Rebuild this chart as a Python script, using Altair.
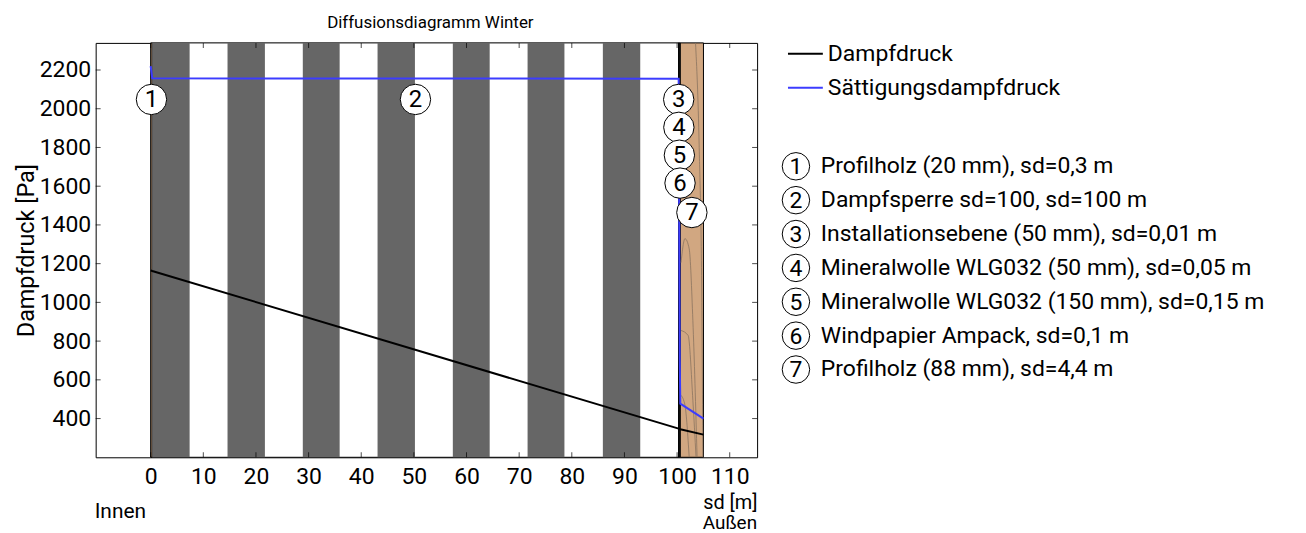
import altair as alt
import pandas as pd

# ---------------- data ----------------
chart_title = "Diffusionsdiagramm Winter"
series_names = ["Dampfdruck", "Sättigungsdampfdruck"]
series_colors = ["#000000", "#3c3cff"]

layer_no = ["1", "2", "3", "4", "5", "6", "7"]
layer_names = [
    "Profilholz (20 mm), sd=0,3 m",
    "Dampfsperre sd=100, sd=100 m",
    "Installationsebene (50 mm), sd=0,01 m",
    "Mineralwolle WLG032 (50 mm), sd=0,05 m",
    "Mineralwolle WLG032 (150 mm), sd=0,15 m",
    "Windpapier Ampack, sd=0,1 m",
    "Profilholz (88 mm), sd=4,4 m",
]
layer_start = [0.0, 0.3, 100.3, 100.31, 100.36, 100.51, 100.61]
layer_end = [0.3, 100.3, 100.31, 100.36, 100.51, 100.61, 105.01]
layer_material = ["Holz", "Sperre", "Luft", "Daemmung", "Daemmung", "Papier", "Holz"]
label_p = [2048, 2048, 2048, 1904, 1760, 1616, 1464]

stripe_start = [0.3, 14.6, 28.9, 43.1, 57.4, 71.6, 85.9]
stripe_end = [7.4, 21.7, 35.9, 50.2, 64.4, 78.6, 93.0]

dd_sd = [0.0, 0.3, 100.3, 100.61, 105.01]
dd_p = [1165, 1162, 348, 345, 317]
sat_sd = [0.0, 0.3, 100.3, 100.31, 100.36, 100.51, 100.61, 105.01]
sat_p = [2220, 2157, 2155, 2100, 1750, 700, 477, 400]

grain_id = ["a"] * 4 + ["b"] * 5 + ["c"] * 4 + ["d"] * 3
grain_sd = [103.5, 104.2, 104.7, 104.9,
            100.75, 101.5, 102.3, 103.0, 103.8,
            100.75, 102.1, 103.0, 103.6,
            100.75, 101.5, 102.3]
grain_p = [2340, 1800, 1000, 200,
           1205, 1329, 1277, 906, 200,
           855, 829, 494, 200,
           520, 468, 200]

x_ticks = [0, 10, 20, 30, 40, 50, 60, 70, 80, 90, 100, 110]
y_ticks = [400, 600, 800, 1000, 1200, 1400, 1600, 1800, 2000, 2200]
x_domain = [-10.45, 115.2]
y_domain = [200, 2340]
end_labels = ["Innen", "Außen"]

# ---------------- layout / style constants ----------------
W, H = 664, 416
LW, LH = 535, 416
FONT = "Roboto"
ITEM_ROW0 = 3.32
ROW_PX = 34.0
ROW0_PX = 11.0
TICK_FS = 23

layers_df = pd.DataFrame({
    "no": layer_no, "name": layer_names, "start": layer_start, "end": layer_end,
    "material": layer_material, "p": label_p,
    "mid": [(a + b) / 2 for a, b in zip(layer_start, layer_end)],
})
stripes_df = pd.DataFrame({"start": stripe_start, "end": stripe_end})
lines_df = pd.concat([
    pd.DataFrame({"series": series_names[0], "sd": dd_sd, "p": dd_p, "o": range(len(dd_sd))}),
    pd.DataFrame({"series": series_names[1], "sd": sat_sd, "p": sat_p, "o": range(len(sat_sd))}),
])
grain_df = pd.DataFrame({"g": grain_id, "sd": grain_sd, "p": grain_p,
                         "o": range(len(grain_id))})
xt_df = pd.DataFrame({"v": x_ticks})
yt_df = pd.DataFrame({"v": y_ticks})

xs = alt.Scale(domain=x_domain, nice=False, zero=False)
ys = alt.Scale(domain=y_domain, nice=False, zero=False)
col_scale = alt.Scale(domain=series_names, range=series_colors)
mat_scale = alt.Scale(domain=["Holz", "Sperre", "Luft", "Daemmung", "Papier"],
                      range=["#d1a781", "#ffffff", "#ffffff", "#ffffff", "#ffffff"])

x_axis = alt.Axis(values=x_ticks, title="sd [m]", titleAnchor="end", grid=False,
                  ticks=False, tickSize=0, domain=False, labelFontSize=TICK_FS,
                  titleFontSize=20, titleFontWeight="normal", labelPadding=8,
                  titlePadding=4, labelColor="black", titleColor="black",
                  labelFont=FONT, titleFont=FONT, format="d")
y_axis = alt.Axis(values=y_ticks, title="Dampfdruck [Pa]", grid=False, ticks=False,
                  tickSize=0, domain=False, labelFontSize=TICK_FS, titleFontSize=23.5,
                  titleFontWeight="normal", labelPadding=5, titlePadding=1,
                  labelColor="black", titleColor="black", labelFont=FONT,
                  titleFont=FONT, format="d")

rects = alt.Chart(layers_df).mark_rect(stroke="black", strokeWidth=1).encode(
    x=alt.X("start:Q", scale=xs, axis=x_axis), x2="end:Q",
    y=alt.value(0), y2=alt.value(H),
    fill=alt.Fill("material:N", scale=mat_scale, legend=None),
)
stripes = alt.Chart(stripes_df).mark_rect(color="#666666").encode(
    x=alt.X("start:Q", scale=xs), x2="end:Q", y=alt.value(0), y2=alt.value(H),
)
grain = alt.Chart(grain_df).mark_line(color="#8a735f", strokeWidth=0.8,
                                      interpolate="monotone", clip=True).encode(
    x=alt.X("sd:Q", scale=xs), y=alt.Y("p:Q", scale=ys), detail="g:N", order="o:Q",
)
lines = alt.Chart(lines_df).mark_line(strokeWidth=2).encode(
    x=alt.X("sd:Q", scale=xs),
    y=alt.Y("p:Q", scale=ys, axis=y_axis),
    stroke=alt.Stroke("series:N", scale=col_scale, legend=None),
    detail="series:N", order="o:Q",
)
label_circles = alt.Chart(layers_df).mark_point(
    shape="circle", filled=True, fill="white", stroke="black", strokeWidth=1,
    size=930, opacity=1).encode(
    x=alt.X("mid:Q", scale=xs), y=alt.Y("p:Q", scale=ys))
label_texts = alt.Chart(layers_df).mark_text(
    font=FONT, fontSize=24, color="black", baseline="middle", align="center", dy=1).encode(
    x=alt.X("mid:Q", scale=xs), y=alt.Y("p:Q", scale=ys), text="no:N")

tick_kw = dict(color="black", thickness=1, size=5)
xt_bottom = alt.Chart(xt_df).mark_tick(orient="vertical", **tick_kw).encode(
    x=alt.X("v:Q", scale=xs), y=alt.value(H - 2.5))
xt_top = alt.Chart(xt_df).mark_tick(orient="vertical", **tick_kw).encode(
    x=alt.X("v:Q", scale=xs), y=alt.value(2.5))
yt_left = alt.Chart(yt_df).mark_tick(orient="horizontal", **tick_kw).encode(
    y=alt.Y("v:Q", scale=ys), x=alt.value(2.5))
yt_right = alt.Chart(yt_df).mark_tick(orient="horizontal", **tick_kw).encode(
    y=alt.Y("v:Q", scale=ys), x=alt.value(W - 2.5))

innen = alt.Chart(pd.DataFrame({"t": [end_labels[0]]})).mark_text(
    font=FONT, fontSize=21, align="left", baseline="middle", color="black").encode(
    x=alt.value(-1), y=alt.value(H + 55), text="t:N")
aussen = alt.Chart(pd.DataFrame({"t": [end_labels[1]]})).mark_text(
    font=FONT, fontSize=19, align="right", baseline="middle", color="black").encode(
    x=alt.value(W), y=alt.value(H + 66), text="t:N")

main = alt.layer(
    rects, stripes, grain, lines, label_circles, label_texts,
    xt_bottom, xt_top, yt_left, yt_right, innen, aussen,
).properties(
    width=W, height=H,
    title=alt.TitleParams(chart_title, fontSize=17, fontWeight="normal", font=FONT,
                          anchor="middle", offset=10, dx=4, color="black"),
    view=alt.ViewBackground(stroke="black", strokeWidth=1),
)

# ---------------- right-hand legend panel ----------------
ly = alt.Scale(domain=[-ROW0_PX / ROW_PX, (LH - ROW0_PX) / ROW_PX], reverse=True,
               nice=False, zero=False)
series_df = pd.DataFrame({"series": series_names, "row": list(range(len(series_names)))})
items_df = pd.DataFrame({"no": layer_no, "name": layer_names,
                         "row": [ITEM_ROW0 + i for i in range(len(layer_no))]})

leg_lines = alt.Chart(series_df).mark_rule(strokeWidth=2).encode(
    x=alt.value(29), x2=alt.value(64), y=alt.Y("row:Q", scale=ly, axis=None),
    stroke=alt.Stroke("series:N", scale=col_scale, legend=None))
leg_series_text = alt.Chart(series_df).mark_text(
    font=FONT, fontSize=23, align="left", baseline="middle", color="black").encode(
    x=alt.value(69), y=alt.Y("row:Q", scale=ly, axis=None), text="series:N")
leg_circles = alt.Chart(items_df).mark_point(
    shape="circle", filled=True, fill="white", stroke="black", strokeWidth=1,
    size=760, opacity=1).encode(
    x=alt.value(37), y=alt.Y("row:Q", scale=ly, axis=None))
leg_nums = alt.Chart(items_df).mark_text(
    font=FONT, fontSize=23, align="center", baseline="middle", color="black", dy=1).encode(
    x=alt.value(37), y=alt.Y("row:Q", scale=ly, axis=None), text="no:N")
leg_names = alt.Chart(items_df).mark_text(
    font=FONT, fontSize=23, align="left", baseline="middle", color="black").encode(
    x=alt.value(62), y=alt.Y("row:Q", scale=ly, axis=None), text="name:N")

legend_panel = alt.layer(
    leg_lines, leg_series_text, leg_circles, leg_nums, leg_names
).properties(width=LW, height=LH,
             view=alt.ViewBackground(stroke="transparent"))

chart = alt.hconcat(main, legend_panel, spacing=0).configure(
    font=FONT,
).configure_view(strokeWidth=1)

chart.save("out.html", embed_options={"renderer": "svg", "actions": False})
